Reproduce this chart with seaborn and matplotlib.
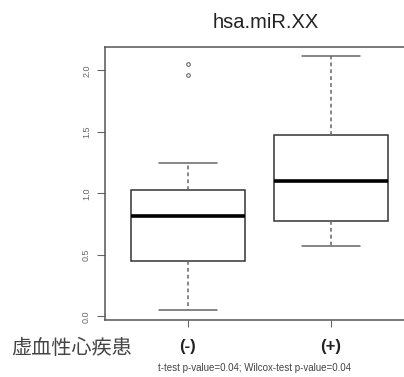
import numpy as np
import pandas as pd
import seaborn as sns
import matplotlib
matplotlib.use("Agg")
import matplotlib.pyplot as plt

# values (5-number summary plus fill points in between)
neg_values = [0.05, 0.25, 0.38, 0.45, 0.60, 0.72, 0.816, 0.90, 0.98, 1.03, 1.247, 1.965, 2.05]
pos_values = [0.575, 0.70, 0.778, 0.95, 1.098, 1.30, 1.477, 1.80, 2.12]
group_labels = ["(-)", "(+)"]
y_ticks = [0.0, 0.5, 1.0, 1.5, 2.0]
y_tick_labels = ["0.0", "0.5", "1.0", "1.5", "2.0"]
title = "hsa.miR.XX"
group_title = "虚血性心疾患"
test_note = "t-test p-value=0.04; Wilcox-test p-value=0.04"

df = pd.DataFrame({
    "group": [group_labels[0]] * len(neg_values) + [group_labels[1]] * len(pos_values),
    "value": neg_values + pos_values,
})

sns.set_style("white")
plt.rcParams['font.family'] = ['Liberation Sans', 'Noto Sans CJK JP', 'DejaVu Sans']

W, H = 404, 377
fig = plt.figure(figsize=(W / 100, H / 100), dpi=100)
ax = fig.add_axes([105 / W, (H - 320) / H, 309 / W, (320 - 47) / H])

sns.boxplot(data=df, x="group", y="value", order=group_labels, ax=ax,
            color="white", linecolor="#333333", linewidth=1.1, width=0.8,
            whiskerprops=dict(linestyle=(0, (2.5, 2)), color="#666666"),
            capprops=dict(color="#666666"),
            medianprops=dict(linewidth=2.6, color="black"),
            flierprops=dict(marker="o", markersize=2.6, markerfacecolor="none",
                            markeredgecolor="#555555", markeredgewidth=0.7))

ax.set_xlim(-0.58, 1.58)
ax.set_ylim(-0.03, 2.19)
ax.set_xlabel("")
ax.set_ylabel("")

for s in ax.spines.values():
    s.set_color("#555555")
    s.set_linewidth(1.1)

ax.set_yticks(y_ticks)
ax.set_yticklabels(y_tick_labels, rotation=90, va="center", fontsize=6.5, color="#666666")
ax.tick_params(axis="y", left=True, length=6, width=0.8, color="#666666", pad=4)
ax.tick_params(axis="x", bottom=True, length=5, width=0.8, color="#666666", pad=9,
               labelsize=12, labelcolor="#222222")
for lab in ax.get_xticklabels():
    lab.set_fontweight("bold")

fig.text(266 / W, 1 - 22 / H, title, ha="center", va="center", fontsize=14.5, color="#222222")
fig.text(72 / W, 1 - 348 / H, group_title, ha="center", va="center", fontsize=14.5,
         color="#444444", family=['Noto Sans CJK JP', 'DejaVu Sans'])
fig.text(254 / W, 1 - 368 / H, test_note, ha="center", va="center", fontsize=7, color="#444444")

fig.savefig("out.png", dpi=100)
